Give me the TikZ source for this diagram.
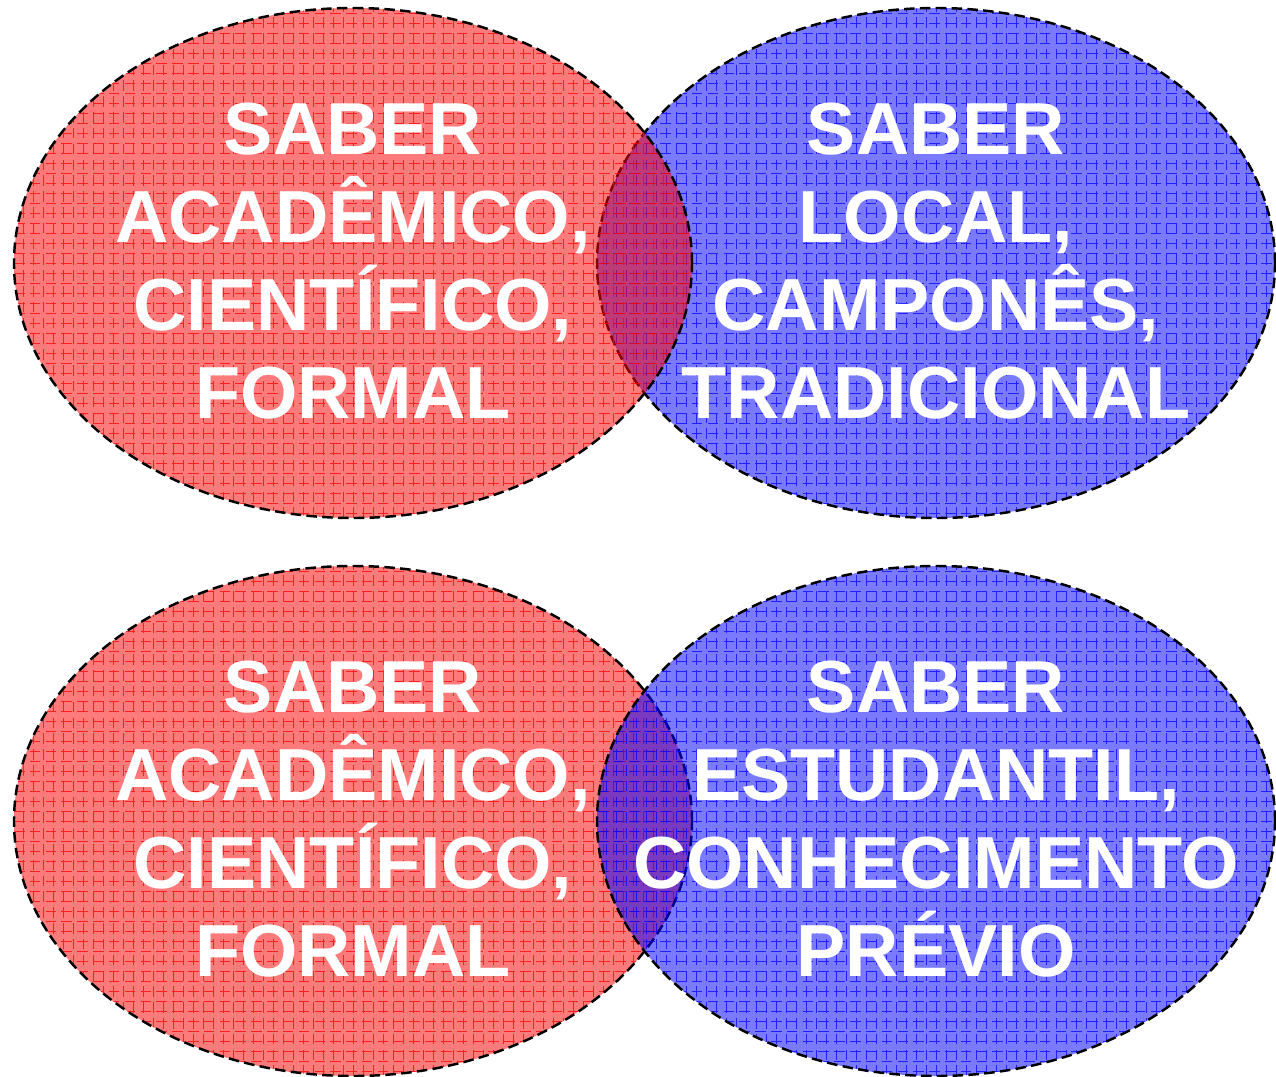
\documentclass[tikz,border=0pt]{standalone}
\usepackage{fontspec}
\setmainfont{Liberation Sans}
\usepackage{tikz}
\usetikzlibrary{shapes.geometric}
\definecolor{redfill}{RGB}{255,0,0}
\definecolor{bluefill}{RGB}{0,0,255}
\tikzset{
	saber/.style={ellipse, draw=black, dash pattern=on 6pt off 3pt, line width=1.4pt,
		minimum width=13.56cm, minimum height=10.2cm, inner sep=0pt, fill opacity=0.52,
		path picture={\draw[#1, line width=0.45pt, draw opacity=0.75]
			(path picture bounding box.south west) grid[step=0.2cm]
			(path picture bounding box.north east);},
		fill=#1},
	rotulo/.style={text=white, align=center, font=\fontsize{42}{50}\selectfont\bfseries}
}

\begin{document}
\begin{tikzpicture}
			\useasboundingbox (0,0) rectangle (25.52,-21.54);
			% linha de cima: vermelho por cima
			\node[saber=bluefill] (localtop) at (18.72,-5.26) {};
			\node[saber=redfill] (academtop) at (7.06,-5.26) {};
			% linha de baixo: azul por cima
			\node[saber=redfill] (academbot) at (7.06,-16.42) {};
			\node[saber=bluefill] (estudbot) at (18.72,-16.42) {};
			
			\node[rotulo] at ([yshift=1pt]academtop.center) {SABER\\ACADÊMICO,\\CIENTÍFICO,\\FORMAL};
			\node[rotulo] at ([yshift=1pt]localtop.center) {SABER\\LOCAL,\\CAMPONÊS,\\TRADICIONAL};
			\node[rotulo] at ([yshift=1pt]academbot.center) {SABER\\ACADÊMICO,\\CIENTÍFICO,\\FORMAL};
			\node[rotulo] at ([yshift=1pt]estudbot.center) {SABER\\ESTUDANTIL,\\CONHECIMENTO\\PRÉVIO};
		\end{tikzpicture}
\end{document}
